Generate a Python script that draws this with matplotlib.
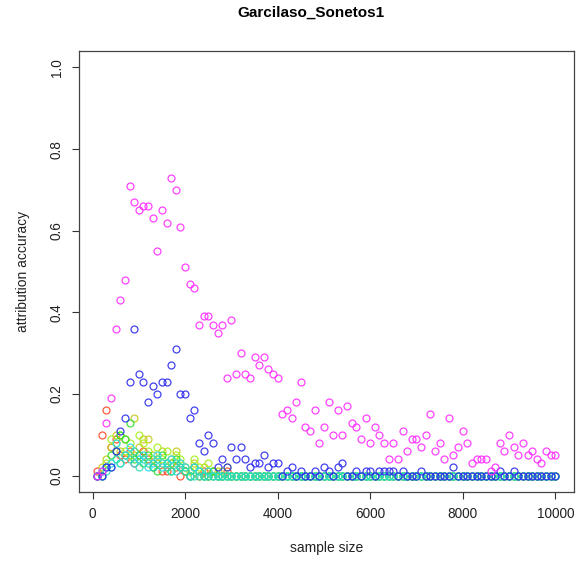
import numpy as np
import matplotlib
matplotlib.use("Agg")
import matplotlib.pyplot as plt

plt.rcParams['font.family'] = ['Liberation Sans', 'DejaVu Sans']

# sample sizes 100..10000
sample_size = list(range(100, 10001, 100))

def pad(vals):
    # rest of the run stays at zero
    return vals + [0.0] * (100 - len(vals))

magenta = [0.00, 0.01, 0.13, 0.19, 0.36, 0.43, 0.48, 0.71, 0.67, 0.65,
           0.66, 0.66, 0.63, 0.55, 0.65, 0.62, 0.73, 0.70, 0.61, 0.51,
           0.47, 0.46, 0.37, 0.39, 0.39, 0.37, 0.35, 0.37, 0.24, 0.38,
           0.25, 0.30, 0.25, 0.24, 0.29, 0.27, 0.29, 0.26, 0.25, 0.24,
           0.15, 0.16, 0.14, 0.18, 0.23, 0.12, 0.11, 0.16, 0.08, 0.12,
           0.18, 0.10, 0.16, 0.10, 0.17, 0.13, 0.12, 0.09, 0.14, 0.08,
           0.12, 0.10, 0.08, 0.04, 0.08, 0.04, 0.11, 0.06, 0.09, 0.09,
           0.07, 0.10, 0.15, 0.06, 0.08, 0.04, 0.14, 0.05, 0.07, 0.11,
           0.08, 0.03, 0.04, 0.04, 0.04, 0.01, 0.02, 0.08, 0.06, 0.10,
           0.07, 0.05, 0.08, 0.05, 0.06, 0.04, 0.03, 0.06, 0.05, 0.05]

blue = [0.00, 0.00, 0.02, 0.02, 0.06, 0.11, 0.14, 0.23, 0.36, 0.25,
        0.23, 0.18, 0.22, 0.20, 0.23, 0.23, 0.27, 0.31, 0.20, 0.20,
        0.14, 0.16, 0.08, 0.06, 0.10, 0.08, 0.02, 0.04, 0.02, 0.07,
        0.04, 0.07, 0.04, 0.02, 0.03, 0.03, 0.05, 0.02, 0.03, 0.03,
        0.00, 0.01, 0.02, 0.00, 0.01, 0.00, 0.00, 0.01, 0.00, 0.02,
        0.01, 0.00, 0.02, 0.03, 0.00, 0.00, 0.01, 0.00, 0.01, 0.01,
        0.00, 0.01, 0.01, 0.01, 0.01, 0.00, 0.01, 0.00, 0.00, 0.00,
        0.01, 0.00, 0.00, 0.00, 0.00, 0.00, 0.00, 0.02, 0.00, 0.00,
        0.00, 0.00, 0.00, 0.00, 0.00, 0.00, 0.00, 0.01, 0.00, 0.00,
        0.01, 0.00, 0.00, 0.00, 0.00, 0.00, 0.00, 0.00, 0.00, 0.00]

red = pad([0.01, 0.10, 0.16, 0.07, 0.09, 0.05, 0.04, 0.06, 0.03, 0.05,
           0.06, 0.04, 0.02, 0.03, 0.01, 0.01, 0.03, 0.02, 0.00, 0.01,
           0.00, 0.02, 0.00, 0.01, 0.00, 0.01, 0.00, 0.00, 0.01, 0.00])
yellow = pad([0.00, 0.02, 0.04, 0.07, 0.10, 0.06, 0.09, 0.05, 0.14, 0.07,
              0.09, 0.09, 0.05, 0.03, 0.06, 0.02, 0.04, 0.06, 0.03, 0.02,
              0.01, 0.03, 0.00, 0.02, 0.01, 0.00, 0.01])
yellowgreen = pad([0.00, 0.01, 0.03, 0.09, 0.08, 0.10, 0.06, 0.08, 0.05, 0.10,
                   0.08, 0.06, 0.04, 0.07, 0.04, 0.06, 0.03, 0.05, 0.04, 0.02,
                   0.01, 0.04, 0.02, 0.00, 0.03, 0.01, 0.00, 0.01, 0.02])
green = pad([0.00, 0.00, 0.02, 0.05, 0.06, 0.10, 0.09, 0.13, 0.04, 0.05,
             0.03, 0.05, 0.02, 0.01, 0.05, 0.03, 0.01, 0.04, 0.02, 0.01,
             0.00, 0.02, 0.01, 0.00, 0.00, 0.01])
cyan = pad([0.00, 0.01, 0.02, 0.03, 0.08, 0.03, 0.05, 0.07, 0.03, 0.04,
            0.05, 0.02, 0.03, 0.05, 0.02, 0.03, 0.04, 0.01, 0.03, 0.02,
            0.00, 0.02, 0.01, 0.00, 0.01])
teal = pad([0.00, 0.00, 0.01, 0.02, 0.04, 0.03, 0.05, 0.04, 0.06, 0.02,
            0.04, 0.03, 0.02, 0.04, 0.03, 0.02, 0.01, 0.03, 0.02, 0.01])

series = [
    (red, "#FF4A2A"),
    (yellow, "#C8C81E"),
    (yellowgreen, "#A6F01E"),
    (green, "#2EE02E"),
    (cyan, "#2ED8F0"),
    (teal, "#2EDCB0"),
    (blue, "#2E2EEE"),
    (magenta, "#FF2EFF"),
]

fig = plt.figure(figsize=(5.8, 5.68), dpi=100)
ax = fig.add_axes([0.136, 0.134, 0.853, 0.776])

for vals, col in series:
    ax.plot(sample_size, vals, linestyle="none", marker="o", markersize=5,
            markerfacecolor="none", markeredgecolor=col, markeredgewidth=0.9,
            alpha=0.9)

ax.set_xlim(100 - 396, 10000 + 396)
ax.set_ylim(-0.04, 1.04)
ax.set_xticks([0, 2000, 4000, 6000, 8000, 10000])
ax.set_yticks([0.0, 0.2, 0.4, 0.6, 0.8, 1.0])
ax.set_yticklabels(["0.0", "0.2", "0.4", "0.6", "0.8", "1.0"], rotation=90, va="center")
ax.tick_params(direction="out", length=5, width=0.8, labelsize=9.8, color="#333333",
               labelcolor="#222222", pad=6)
for sp in ax.spines.values():
    sp.set_color("#444444")
    sp.set_linewidth(0.9)

ax.set_xlabel("sample size", fontsize=10, color="#222222", labelpad=14)
ax.set_ylabel("attribution accuracy", fontsize=10, color="#222222", labelpad=14)
fig.text(0.536, 0.977, "Garcilaso_Sonetos1", ha="center", va="center",
         fontsize=11, fontweight="bold")

fig.savefig("out.png", dpi=100)
